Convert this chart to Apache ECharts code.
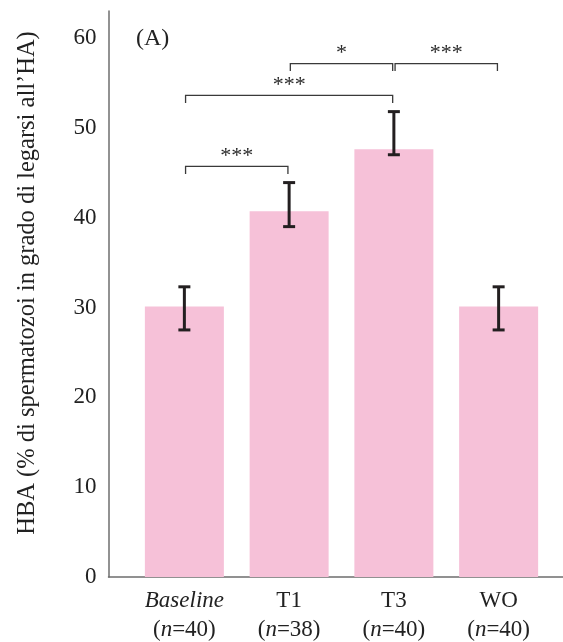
<!DOCTYPE html>
<html>
<head>
<meta charset="utf-8">
<title>HBA</title>
<script src="https://cdn.jsdelivr.net/npm/echarts@6/dist/echarts.min.js"></script>
<style>
    html, body { margin: 0; padding: 0; background: #fff; }
    #main { width: 563px; height: 642px; }
</style>
</head>
<body>
<div id="main"></div>
<script>
    // dati
    var categories = ['Baseline', 'T1', 'T3', 'WO'];
    var sampleSizes = [40, 38, 40, 40];
    var means = [30.1, 40.7, 47.6, 30.1];
    var errLow = [27.5, 39.0, 47.0, 27.5];
    var errHigh = [32.3, 43.9, 51.8, 32.3];

    // confronti significativi (indici delle categorie)
    var bracketFrom = [0, 0, 1, 2];
    var bracketTo = [1, 2, 2, 3];
    var bracketLevel = [45.7, 53.6, 57.15, 57.15];
    var bracketStars = ['***', '***', '*', '***'];

    var serif = '"Liberation Serif", "DejaVu Serif", serif';
    var axisColor = '#6e6e6e';

    var chart = echarts.init(document.getElementById('main'));

    var option = {
        animation: false,
        title: {
            text: '(A)',
            left: 131,
            top: 22,
            textStyle: { fontFamily: serif, fontSize: 24, fontWeight: 'normal', color: '#222' }
        },
        grid: [
            { left: 132, right: 12, top: 11, bottom: 65 },
            { left: 108.5, right: 0, top: 11, bottom: 65 }
        ],
        xAxis: [
            {
                type: 'category',
                gridIndex: 0,
                data: categories,
                axisLine: { show: false },
                axisTick: { show: false },
                axisLabel: {
                    margin: 9,
                    interval: 0,
                    formatter: function (value, idx) {
                        var name = idx === 0 ? '{it|' + value + '}' : '{rm|' + value + '}';
                        return name + '\n{rm|(}{it|n}{rm|=' + sampleSizes[idx] + ')}';
                    },
                    rich: {
                        rm: { fontFamily: serif, fontSize: 23, lineHeight: 29, color: '#222' },
                        it: { fontFamily: serif, fontSize: 23, lineHeight: 29, fontStyle: 'italic', color: '#222' }
                    }
                }
            },
            {
                type: 'value',
                gridIndex: 1,
                min: 0,
                max: 1,
                axisLine: { show: true, lineStyle: { color: axisColor, width: 1.5 } },
                axisTick: { show: false },
                axisLabel: { show: false },
                splitLine: { show: false }
            }
        ],
        yAxis: [
            {
                type: 'value',
                gridIndex: 0,
                min: 0,
                max: 63,
                interval: 10,
                offset: 23.5,
                axisLine: { show: true, lineStyle: { color: axisColor, width: 1.5 } },
                axisTick: { show: false },
                splitLine: { show: false },
                axisLabel: {
                    margin: 12,
                    fontFamily: serif,
                    fontSize: 23,
                    color: '#222',
                    formatter: function (v) { return v % 10 === 0 ? String(v) : ''; }
                },
                name: 'HBA (% di spermatozoi in grado di legarsi all\u2019HA)',
                nameLocation: 'middle',
                nameGap: 68,
                nameTextStyle: { fontFamily: serif, fontSize: 24.5, color: '#222', padding: [0, 0, 0, 22] }
            },
            { type: 'value', gridIndex: 1, show: false }
        ],
        series: [
            {
                type: 'bar',
                xAxisIndex: 0,
                yAxisIndex: 0,
                data: means,
                barWidth: 79,
                itemStyle: { color: '#f6c1d8' },
                z: 1
            },
            {
                // barre di errore
                type: 'custom',
                xAxisIndex: 0,
                yAxisIndex: 0,
                encode: { x: 0, y: [1, 2] },
                data: categories.map(function (c, i) { return [i, errLow[i], errHigh[i]]; }),
                renderItem: function (params, api) {
                    var lo = api.coord([api.value(0), api.value(1)]);
                    var hi = api.coord([api.value(0), api.value(2)]);
                    var w = 6;
                    var st = { stroke: '#231f20', lineWidth: 3 };
                    return {
                        type: 'group',
                        children: [
                            { type: 'line', shape: { x1: lo[0], y1: lo[1], x2: hi[0], y2: hi[1] }, style: st },
                            { type: 'line', shape: { x1: lo[0] - w, y1: lo[1], x2: lo[0] + w, y2: lo[1] }, style: st },
                            { type: 'line', shape: { x1: hi[0] - w, y1: hi[1], x2: hi[0] + w, y2: hi[1] }, style: st }
                        ]
                    };
                },
                z: 3
            },
            {
                // parentesi di significatività
                type: 'custom',
                xAxisIndex: 0,
                yAxisIndex: 0,
                encode: { x: 0, y: 2 },
                data: bracketFrom.map(function (f, i) {
                    return [f, bracketTo[i], bracketLevel[i], bracketStars[i]];
                }),
                renderItem: function (params, api) {
                    var a = api.coord([api.value(0), api.value(2)]);
                    var b = api.coord([api.value(1), api.value(2)]);
                    var x1 = a[0] + 1.2, x2 = b[0] - 1.2, y = a[1];
                    var tick = 7.5;
                    var stars = bracketStars[params.dataIndex];
                    return {
                        type: 'group',
                        children: [
                            {
                                type: 'polyline',
                                shape: { points: [[x1, y + tick], [x1, y], [x2, y], [x2, y + tick]] },
                                style: { stroke: '#3a3a3a', lineWidth: 1.3, fill: null }
                            },
                            {
                                type: 'text',
                                style: {
                                    text: stars,
                                    x: (x1 + x2) / 2,
                                    y: y - 10,
                                    align: 'center',
                                    verticalAlign: 'middle',
                                    fontFamily: serif,
                                    fontSize: 22,
                                    fill: '#2a2a2a'
                                }
                            }
                        ]
                    };
                },
                z: 4
            }
        ]
    };

    chart.setOption(option);
</script>
</body>
</html>
